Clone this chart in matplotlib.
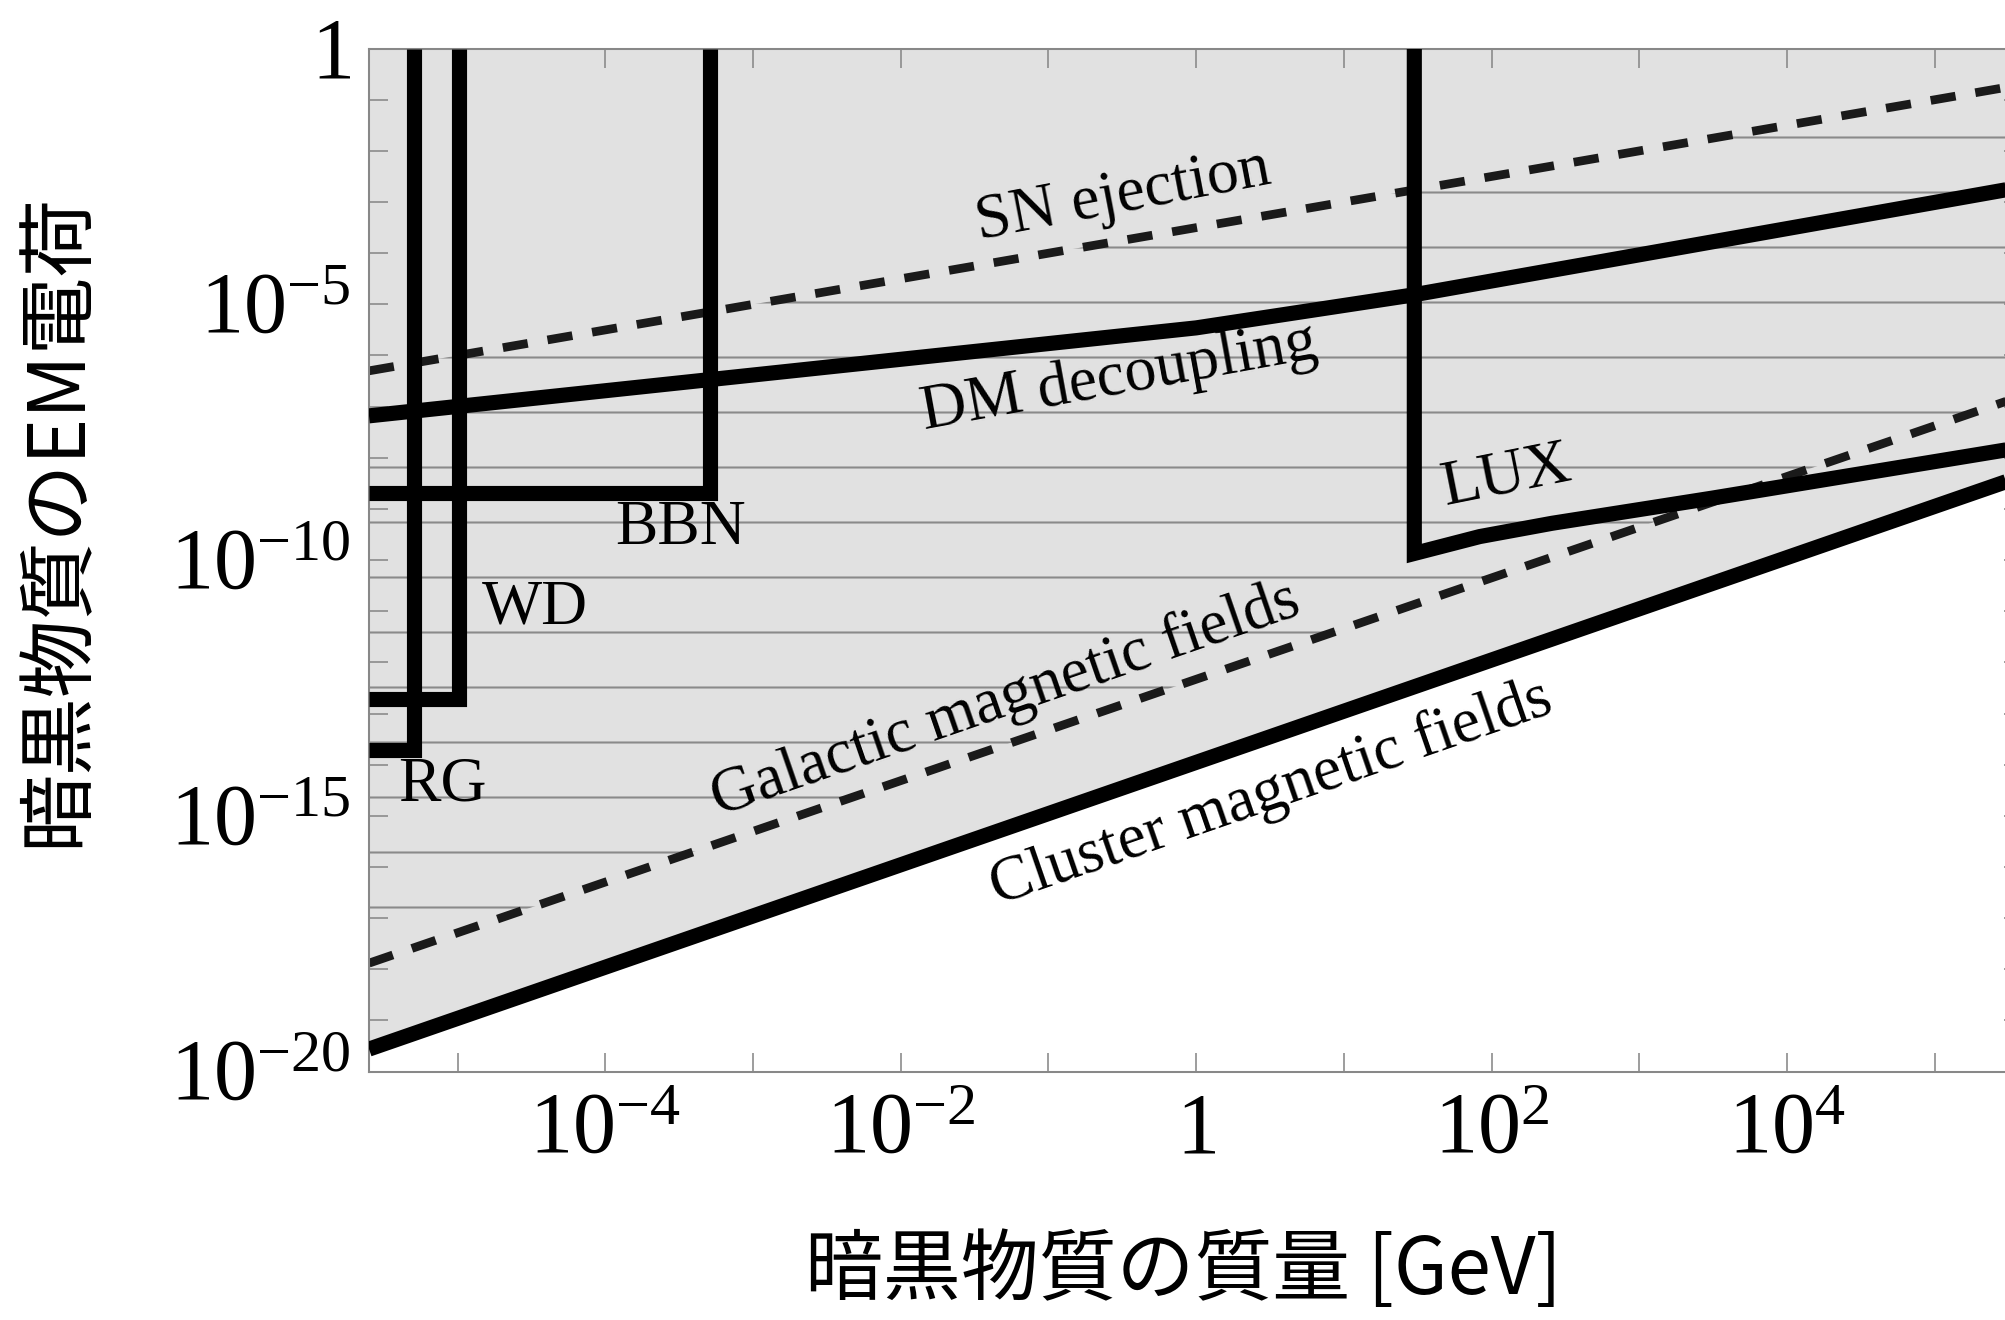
import numpy as np
import matplotlib
matplotlib.use('Agg')
import matplotlib.pyplot as plt
from matplotlib.ticker import FixedLocator, NullFormatter
from matplotlib.transforms import ScaledTranslation

# ---------------- data (log-log plane: mass [GeV] vs EM charge) ----------------
mass_limits = [10**-5.6, 10**5.6]
charge_limits = [1e-20, 1.0]

# stellar / BBN bounds (vertical edge mass, horizontal edge charge)
rg_mass = 10**-5.295
rg_charge = 10**-13.71
wd_mass = 10**-4.99
wd_charge = 10**-12.72
bbn_mass = 10**-3.29
bbn_charge = 10**-8.69

# LUX bound
lux_mass = [10**1.477, 10**1.477, 10**1.92, 10**2.41, 10**3.49, 10**5.6]
lux_charge = [1.0, 10**-9.87, 10**-9.54, 10**-9.28, 10**-8.79, 10**-7.79]

# DM decoupling
dmdec_mass = [10**-5.6, 1.0, 10**1.46, 10**5.6]
dmdec_charge = [10**-7.18, 10**-5.46, 10**-4.82, 10**-2.70]

# SN ejection (dashed)
sn_mass = [10**-5.6, 10**5.6]
sn_charge = [10**-6.30, 10**-0.70]

# Galactic magnetic fields (dashed)
gal_mass = [10**-5.6, 10**5.6]
gal_charge = [10**-17.88, 10**-6.78]

# Cluster magnetic fields (solid)
clu_mass = [10**-5.6, 10**5.6]
clu_charge = [10**-19.56, 10**-8.35]

xtick_major = [1e-4, 1e-2, 1.0, 1e2, 1e4]
xtick_labels = [r'$10^{-4}$', r'$10^{-2}$', r'$1$', r'$10^{2}$', r'$10^{4}$']
xtick_minor = [10.0**k for k in range(-5, 6)]
ytick_major = [1.0, 1e-5, 1e-10, 1e-15, 1e-20]
ytick_labels = [r'$1$', r'$10^{-5}$', r'$10^{-10}$', r'$10^{-15}$', r'$10^{-20}$']
ytick_minor = [10.0**k for k in range(-20, 1)]

xlabel = '暗黒物質の質量 [GeV]'
ylabel = '暗黒物質のEM電荷'

# ---------------- style ----------------
DPI = 330
plt.rcParams['mathtext.fontset'] = 'custom'
plt.rcParams['mathtext.rm'] = 'Liberation Serif'
plt.rcParams['mathtext.it'] = 'Liberation Serif:italic'
plt.rcParams['mathtext.bf'] = 'Liberation Serif:bold'
plt.rcParams['hatch.linewidth'] = 0.45
plt.rcParams['hatch.color'] = '#8a8a8a'

fig = plt.figure(figsize=(2005 / DPI, 1320 / DPI), dpi=DPI)
ax = fig.add_axes([369 / 2005, 248.4 / 1320, (2023.3 - 369) / 2005, (1271.4 - 248.4) / 1320])
ax.set_xscale('log')
ax.set_yscale('log')
ax.set_xlim(mass_limits)
ax.set_ylim(charge_limits)

spine_col = '#888888'
for s in ax.spines.values():
    s.set_color(spine_col)
    s.set_linewidth(0.45)

# light grey region above the cluster line
ax.fill_between(clu_mass, clu_charge, [charge_limits[1]] * len(clu_mass),
                facecolor='#e1e1e1', edgecolor='none', zorder=0.5)
# horizontal hatch between Galactic and SN-ejection lines
ax.fill_between(sn_mass, gal_charge, sn_charge, facecolor='none',
                edgecolor='#8a8a8a', linewidth=0, hatch='-', zorder=0.8)

thick = 3.3
kw_solid = dict(color='black', lw=thick, solid_joinstyle='miter', solid_capstyle='butt', zorder=3)
# RG
ax.plot([rg_mass, rg_mass, mass_limits[0]], [charge_limits[1], rg_charge, rg_charge], **kw_solid)
# WD
ax.plot([wd_mass, wd_mass, mass_limits[0]], [charge_limits[1], wd_charge, wd_charge], **kw_solid)
# BBN
ax.plot([bbn_mass, bbn_mass, mass_limits[0]], [charge_limits[1], bbn_charge, bbn_charge], **kw_solid)
# LUX
ax.plot(lux_mass, lux_charge, **kw_solid)
# DM decoupling
ax.plot(dmdec_mass, dmdec_charge, **kw_solid)
# Cluster magnetic fields
ax.plot(clu_mass, clu_charge, **kw_solid)

kw_dash = dict(color='#1a1a1a', lw=1.9, dashes=(2.9, 2.3), dash_capstyle='butt', zorder=2.5)
ax.plot(sn_mass, sn_charge, **kw_dash)
ax.plot(gal_mass, gal_charge, **kw_dash)

# ticks
ax.xaxis.set_major_locator(FixedLocator(xtick_major))
ax.xaxis.set_minor_locator(FixedLocator(xtick_minor))
ax.yaxis.set_major_locator(FixedLocator(ytick_major))
ax.yaxis.set_minor_locator(FixedLocator(ytick_minor))
ax.xaxis.set_minor_formatter(NullFormatter())
ax.yaxis.set_minor_formatter(NullFormatter())
ax.tick_params(which='both', direction='in', top=True, right=True,
               length=4.15, width=0.35, color=spine_col)
ax.tick_params(axis='x', which='major', labelsize=18.8, pad=3.5)
ax.tick_params(axis='y', which='major', labelsize=18.8, pad=4.0)
ax.set_xticklabels(xtick_labels)
ax.set_yticklabels(ytick_labels)
off = ScaledTranslation(0, -28.5 / DPI, fig.dpi_scale_trans)
for t in ax.yaxis.get_major_ticks():
    t.label1.set_verticalalignment('baseline')
    t.label1.set_transform(t.label1.get_transform() + off)

# axis labels
cjk = ['Noto Sans CJK JP', 'DejaVu Sans']
ax.set_xlabel(xlabel, family=cjk, fontsize=17)
ax.set_ylabel(ylabel, family=cjk, fontsize=17)
ax.xaxis.set_label_coords(0.4924, -0.195)
ax.xaxis.label.set_verticalalignment('center')
ax.yaxis.set_label_coords(-0.188, 0.539)
ax.yaxis.label.set_verticalalignment('center')

# curve labels
serif = 'Liberation Serif'
fs = 13.9
ang_half = np.degrees(np.arctan(0.5 * 51.15 / 147.8))
ang_one = np.degrees(np.arctan(51.15 / 147.8))
labels = [
    ('SN ejection', 10**-0.49, 10**-2.9, ang_half + 1.0),
    ('DM decoupling', 10**-0.52, 10**-6.45, ang_half + 0.5),
    ('LUX', 10**2.1, 10**-8.37, ang_half + 1.5),
    ('BBN', 10**-3.49, 10**-9.4, 0),
    ('WD', 10**-4.48, 10**-10.94, 0),
    ('RG', 10**-5.10, 10**-14.4, 0),
    ('Galactic magnetic fields', 10**-1.29, 10**-12.74, ang_one),
    ('Cluster magnetic fields', 10**0.51, 10**-14.56, ang_one),
]
for txt, x, y, rot in labels:
    ax.text(x, y, txt, family=serif, fontsize=fs, rotation=rot,
            rotation_mode='anchor', ha='center', va='center', zorder=4)

fig.savefig('out.png', dpi=DPI)
